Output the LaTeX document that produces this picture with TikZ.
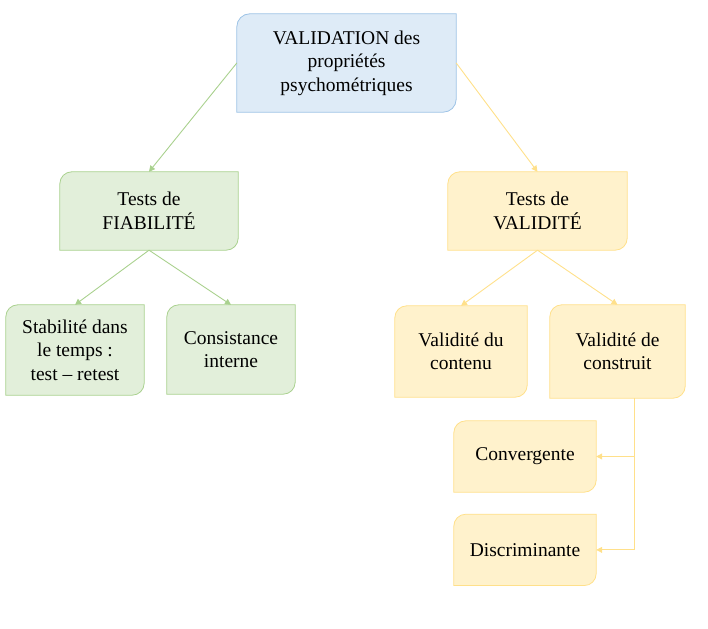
\documentclass[tikz,border=0pt]{standalone}
\usepackage{fontspec}
\setmainfont{Liberation Serif}
\usepackage{tikz}
\usetikzlibrary{arrows.meta,positioning,backgrounds,calc}
\usepackage{xcolor}
\definecolor{bluefill}{HTML}{DEEBF7}
\definecolor{blueline}{HTML}{9DC3E6}
\definecolor{greenfill}{HTML}{E2EFDA}
\definecolor{greenline}{HTML}{A9D18E}
\definecolor{goldfill}{HTML}{FFF2CC}
\definecolor{goldline}{HTML}{FFE08A}
% frame with rounded top-left and bottom-right corners
\newcommand{\leafframe}[3]{%
    \path[fill=#2fill, draw=#2line, line width=0.8pt]
        (#1.north east) -- ([yshift=#3]#1.south east)
        arc[start angle=0, end angle=-90, radius=#3] -- (#1.south west)
        -- ([yshift=-#3]#1.north west)
        arc[start angle=180, end angle=90, radius=#3] -- cycle;}
\tikzset{
    leaf/.style={rectangle, inner sep=0pt, align=center,
                 font=\fontsize{19.5}{23.5}\selectfont},
    arrc/.style={-{Triangle[length=6pt,width=6pt]}, line width=0.9pt, draw=#1},
}

\begin{document}
\begin{tikzpicture}[x=1pt, y=1pt]
    \useasboundingbox (0,0) rectangle (708,628);

    \node[leaf, minimum width=219pt, minimum height=98pt] (top)    at (346.5,565)
        {VALIDATION des\\propriétés\\psychométriques};
    \node[leaf, minimum width=178pt, minimum height=78pt] (fiab)   at (149,417)
        {Tests de\\FIABILITÉ};
    \node[leaf, minimum width=179pt, minimum height=78pt] (vali)   at (537.5,417)
        {Tests de\\VALIDITÉ};
    \node[leaf, minimum width=138pt, minimum height=90pt] (stab)   at (75,278)
        {Stabilité dans\\le temps :\\test -- retest};
    \node[leaf, minimum width=128pt, minimum height=89pt] (cons)   at (231,278.5)
        {Consistance\\interne};
    \node[leaf, minimum width=132pt, minimum height=91pt] (cont)   at (461,276.5)
        {Validité du\\contenu};
    \node[leaf, minimum width=135pt, minimum height=93pt] (constr) at (617.5,276.5)
        {Validité de\\construit};
    \node[leaf, minimum width=142pt, minimum height=71pt] (conv)   at (525,171.5)
        {Convergente};
    \node[leaf, minimum width=142pt, minimum height=71pt, below=22pt of conv] (disc)
        {Discriminante};

    \begin{scope}[on background layer]
        \leafframe{top}{blue}{13pt}
        \leafframe{fiab}{green}{12pt}
        \leafframe{stab}{green}{12pt}
        \leafframe{cons}{green}{12pt}
        \leafframe{vali}{gold}{12pt}
        \leafframe{cont}{gold}{12pt}
        \leafframe{constr}{gold}{12pt}
        \leafframe{conv}{gold}{12pt}
        \leafframe{disc}{gold}{12pt}
    \end{scope}

    \draw[arrc=greenline] (top.west) -- (fiab.north);
    \draw[arrc=goldline]  (top.east) -- (vali.north);
    \draw[arrc=greenline] (fiab.south) -- (stab.north);
    \draw[arrc=greenline] (fiab.south) -- (cons.north);
    \draw[arrc=goldline]  (vali.south) -- (cont.north);
    \draw[arrc=goldline]  (vali.south) -- (constr.north);

    \coordinate (bend) at ([xshift=16.5pt]constr.south);
    \draw[arrc=goldline] (bend) |- (conv.east);
    \draw[arrc=goldline] (bend) |- (disc.east);
\end{tikzpicture}
\end{document}
